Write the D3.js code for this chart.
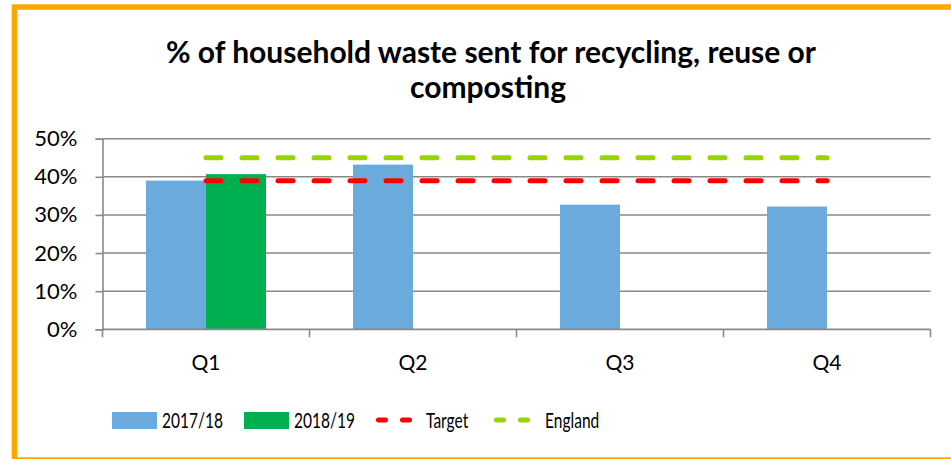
<!DOCTYPE html>
<html>
<head>
<meta charset="utf-8">
<script src="https://cdn.jsdelivr.net/npm/d3@7"></script>
<style>
    html, body { margin: 0; padding: 0; background: #fff; }
    svg { display: block; font-family: Lato, "Open Sans", sans-serif; }
</style>
</head>
<body>
<svg id="chart" width="951" height="459"></svg>
<script>
const categories = ["Q1", "Q2", "Q3", "Q4"];
const seriesNames = ["2017/18", "2018/19"];
const values201718 = [39.0, 43.2, 32.7, 32.2];
const values201819 = [40.7, null, null, null];
const targetValues = [39, 39, 39, 39];
const englandValues = [45, 45, 45, 45];
const yTicks = [0, 10, 20, 30, 40, 50];

const colors = {
    "2017/18": "#6AAADD",
    "2018/19": "#00B050",
    target: "#FF0000",
    england: "#99D400",
    grid: "#898989",
    border: "#F9A800"
};

const svg = d3.select("#chart");

// orange frame, cut off at the right and bottom like the picture
svg.append("rect")
    .attr("x", 14.5).attr("y", 7)
    .attr("width", 1000).attr("height", 453)
    .attr("fill", "none")
    .attr("stroke", colors.border)
    .attr("stroke-width", 5.5);

svg.append("text")
    .attr("x", 491).attr("y", 63)
    .attr("text-anchor", "middle")
    .style("font-size", "30px").style("font-weight", "bold")
    .text("% of household waste sent for recycling, reuse or");
svg.append("text")
    .attr("x", 488).attr("y", 98)
    .attr("text-anchor", "middle")
    .style("font-size", "30px").style("font-weight", "bold")
    .text("composting");

const plot = { left: 102.5, right: 930.5, top: 138.7, bottom: 329.3 };

const x0 = d3.scaleBand()
    .domain(categories)
    .range([plot.left, plot.right])
    .padding(0);

const x1 = d3.scaleBand()
    .domain(seriesNames)
    .range([0, x0.bandwidth()])
    .paddingInner(0)
    .paddingOuter(0.725);

const y = d3.scaleLinear()
    .domain([0, 50])
    .range([plot.bottom, plot.top]);

// gridlines
svg.append("g")
    .selectAll("line")
    .data(yTicks.filter(d => d > 0))
    .enter().append("line")
    .attr("x1", plot.left).attr("x2", plot.right)
    .attr("y1", d => y(d)).attr("y2", d => y(d))
    .attr("stroke", colors.grid).attr("stroke-width", 1.6);

// y axis
const yAxis = svg.append("g")
    .attr("transform", `translate(${plot.left},0)`)
    .call(d3.axisLeft(y).tickValues(yTicks).tickSize(7).tickPadding(18).tickFormat(d => d + "%"));
yAxis.select(".domain").attr("stroke", colors.grid).attr("stroke-width", 1.6);
yAxis.selectAll(".tick line").attr("stroke", colors.grid).attr("stroke-width", 1.6);
yAxis.selectAll("text").style("font-size", "22px").attr("fill", "#000")
    .style("font-family", "Lato, sans-serif");

// bars
const barData = [];
categories.forEach((c, i) => {
    barData.push({ cat: c, series: "2017/18", value: values201718[i] });
    if (values201819[i] != null) barData.push({ cat: c, series: "2018/19", value: values201819[i] });
});

svg.append("g")
    .selectAll("rect")
    .data(barData)
    .enter().append("rect")
    .attr("x", d => x0(d.cat) + x1(d.series))
    .attr("y", d => y(d.value))
    .attr("width", x1.bandwidth())
    .attr("height", d => y(0) - y(d.value))
    .attr("fill", d => colors[d.series]);

// x axis
const xAxis = svg.append("g")
    .attr("transform", `translate(0,${plot.bottom})`)
    .call(d3.axisBottom(x0).tickSize(0).tickPadding(26));
xAxis.select(".domain").remove();
xAxis.selectAll("text").style("font-size", "21px").attr("fill", "#000")
    .style("font-family", "Lato, sans-serif");

svg.append("line")
    .attr("x1", plot.left).attr("x2", plot.right)
    .attr("y1", plot.bottom).attr("y2", plot.bottom)
    .attr("stroke", colors.grid).attr("stroke-width", 1.8);

const boundaries = categories.map(c => x0(c)).concat([plot.right]);
svg.append("g")
    .selectAll("line")
    .data(boundaries)
    .enter().append("line")
    .attr("x1", d => d).attr("x2", d => d)
    .attr("y1", plot.bottom).attr("y2", plot.bottom + 8)
    .attr("stroke", colors.grid).attr("stroke-width", 1.6);

// dashed reference lines
const line = d3.line()
    .x(d => x0(d.cat) + x0.bandwidth() / 2)
    .y(d => y(d.value));

[[englandValues, colors.england], [targetValues, colors.target]].forEach(([vals, col]) => {
    svg.append("path")
        .datum(categories.map((c, i) => ({ cat: c, value: vals[i] })))
        .attr("d", line)
        .attr("fill", "none")
        .attr("stroke", col)
        .attr("stroke-width", 5)
        .attr("stroke-linecap", "round")
        .attr("stroke-dasharray", "15 21");
});

// legend (the source font is a narrow one, so squeeze the text sideways)
const legendY = 420;
const legend = svg.append("g").style("font-size", "21px");

const legendItems = [
    { label: "2017/18", type: "bar", color: colors["2017/18"], x: 112, tx: 162 },
    { label: "2018/19", type: "bar", color: colors["2018/19"], x: 244, tx: 294 },
    { label: "Target", type: "line", color: colors.target, x: 376, tx: 426 },
    { label: "England", type: "line", color: colors.england, x: 494, tx: 545 }
];

legendItems.forEach(item => {
    if (item.type === "bar") {
        legend.append("rect")
            .attr("x", item.x).attr("y", legendY - 8)
            .attr("width", 45).attr("height", 17)
            .attr("fill", item.color);
    } else {
        legend.append("line")
            .attr("x1", item.x + 2.5).attr("x2", item.x + 33.5)
            .attr("y1", legendY).attr("y2", legendY)
            .attr("stroke", item.color)
            .attr("stroke-width", 5)
            .attr("stroke-linecap", "round")
            .attr("stroke-dasharray", "7 17");
    }
    legend.append("text")
        .attr("transform", `translate(${item.tx},${legendY}) scale(0.74,1)`)
        .attr("dy", "0.36em")
        .attr("fill", "#000")
        .text(item.label);
});
</script>
</body>
</html>
